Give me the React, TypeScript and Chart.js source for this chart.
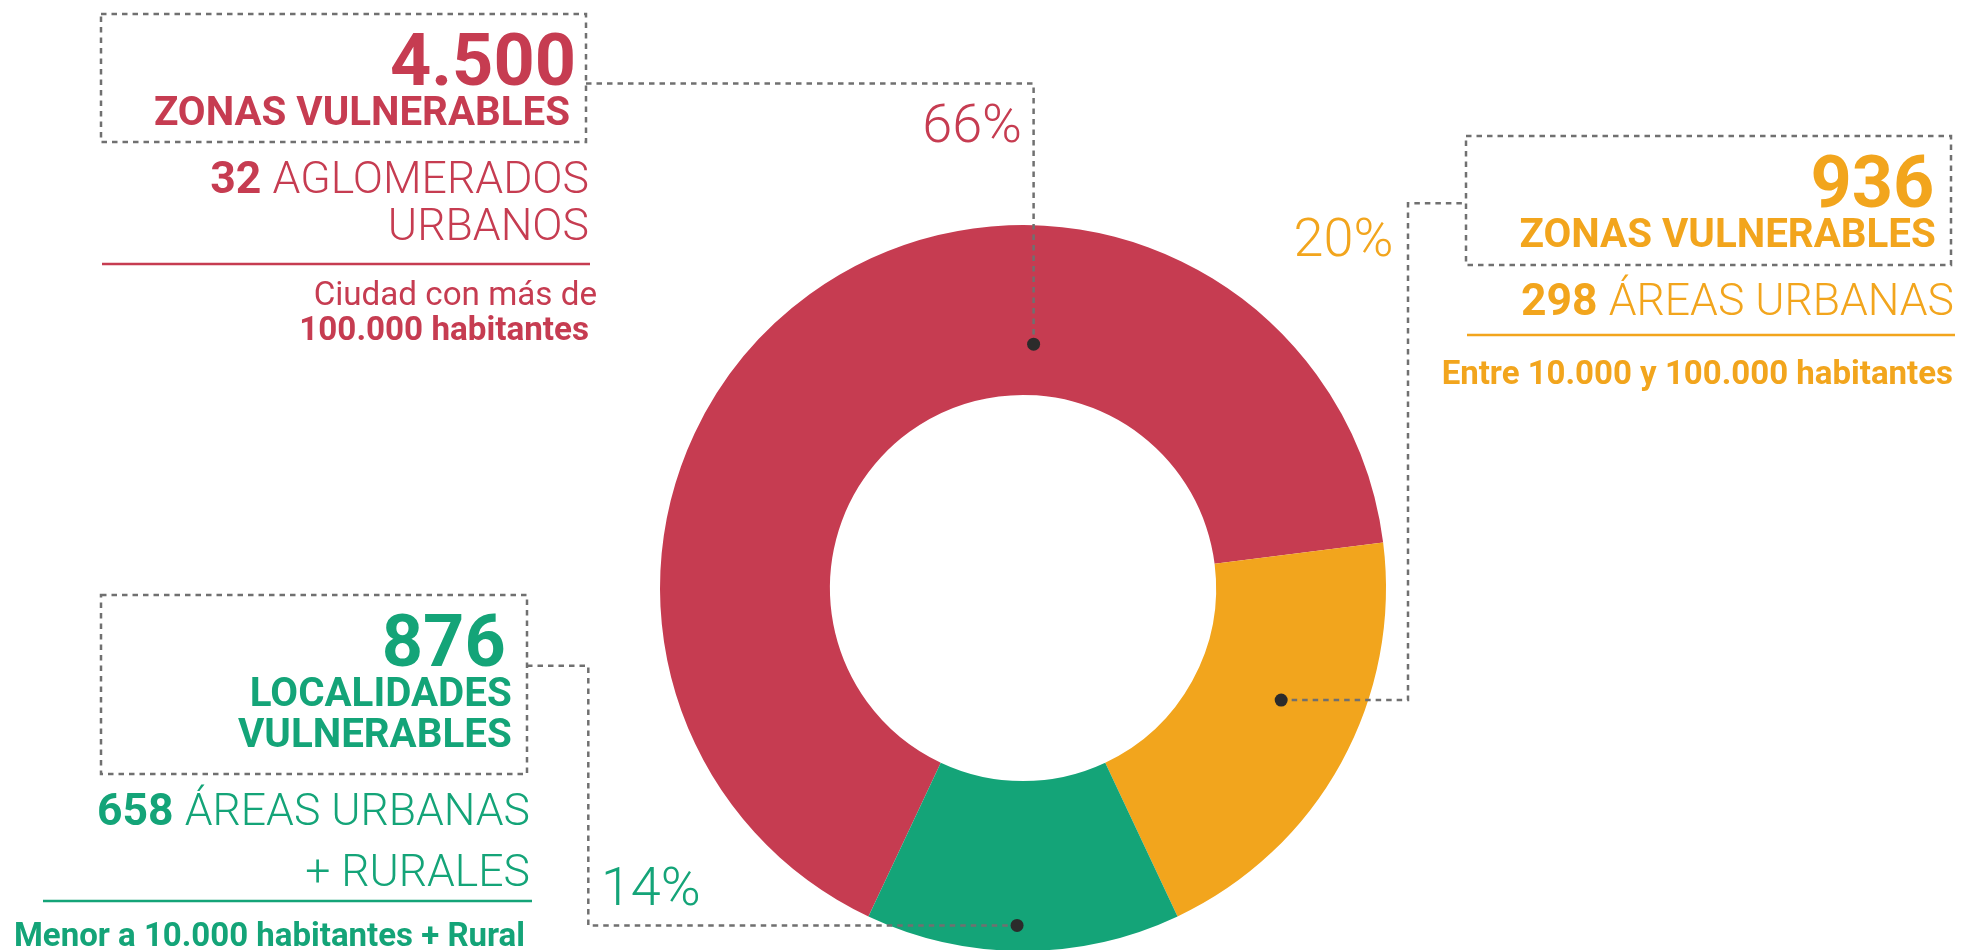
import React, { useEffect, useRef } from 'react';
import { Chart, registerables } from 'chart.js';

Chart.register(...registerables);

// ---------- data ----------
const categories = [
  'Ciudad con más de 100.000 habitantes',
  'Entre 10.000 y 100.000 habitantes',
  'Menor a 10.000 habitantes + Rural',
];
const shares = [66, 20, 14];
const zoneCounts = ['4.500', '936', '876'];
const zoneLabels = [['ZONAS VULNERABLES'], ['ZONAS VULNERABLES'], ['LOCALIDADES', 'VULNERABLES']];
const areaCounts = ['32', '298', '658'];
const areaLabels = [['AGLOMERADOS', 'URBANOS'], ['ÁREAS URBANAS'], ['ÁREAS URBANAS', '+ RURALES']];
const colors = ['#C63C51', '#F2A51D', '#14A478'];

// ---------- layout ----------
const W = 1962;
const H = 950;
const CANVAS_H = 1000;
const DASH_COLOR = '#707070';
const DOT_COLOR = '#2b2b2b';

// dot anchor inside each arc: fraction along the arc, fraction across the ring
const anchors = [
  { along: 0.662, radial: 0.3 },
  { along: 0.426, radial: 0.52 },
  { along: 0.52, radial: 0.85 },
];

const boxes = [
  { x: 101, y: 14, w: 485, h: 128 },
  { x: 1466, y: 136, w: 485, h: 129 },
  { x: 101, y: 595, w: 426, h: 179 },
];

const rules = [
  { x1: 102, x2: 590, y: 264, c: 0 },
  { x1: 1467, x2: 1955, y: 335, c: 1 },
  { x1: 43, x2: 532, y: 901, c: 2 },
];

type Part = [string, number];
type TextSpec = { parts: Part[]; size: number; right: number; base: number; c: number };

const texts: TextSpec[] = [
  { parts: [[zoneCounts[0], 700]], size: 72, right: 576, base: 86, c: 0 },
  { parts: [[zoneLabels[0][0], 700]], size: 40.3, right: 570, base: 126, c: 0 },
  { parts: [[areaCounts[0] + ' ', 700], [areaLabels[0][0], 300]], size: 44.6, right: 589, base: 193.3, c: 0 },
  { parts: [[areaLabels[0][1], 300]], size: 44.6, right: 589, base: 240.7, c: 0 },
  { parts: [['Ciudad con más de', 400]], size: 33.2, right: 597, base: 305.3, c: 0 },
  { parts: [['100.000 habitantes', 700]], size: 33.2, right: 589, base: 340, c: 0 },
  { parts: [[shares[0] + '%', 300]], size: 54, right: 1022, base: 142.3, c: 0 },

  { parts: [[zoneCounts[1], 700]], size: 72, right: 1934.3, base: 207.7, c: 1 },
  { parts: [[zoneLabels[1][0], 700]], size: 40.3, right: 1935.7, base: 248.3, c: 1 },
  { parts: [[areaCounts[1] + ' ', 700], [areaLabels[1][0], 300]], size: 44.5, right: 1954, base: 315.7, c: 1 },
  { parts: [[categories[1], 700]], size: 33, right: 1953, base: 383.3, c: 1 },
  { parts: [[shares[1] + '%', 300]], size: 54, right: 1393.3, base: 256.7, c: 1 },

  { parts: [[zoneCounts[2], 700]], size: 72, right: 505.7, base: 666.7, c: 2 },
  { parts: [[zoneLabels[2][0], 700]], size: 40.3, right: 511.7, base: 707.3, c: 2 },
  { parts: [[zoneLabels[2][1], 700]], size: 40.3, right: 511.7, base: 748.3, c: 2 },
  { parts: [[areaCounts[2] + ' ', 700], [areaLabels[2][0], 300]], size: 44.5, right: 530, base: 825.7, c: 2 },
  { parts: [[areaLabels[2][1], 300]], size: 44.5, right: 530, base: 886, c: 2 },
  { parts: [[categories[2], 700]], size: 33, right: 525, base: 946, c: 2 },
  { parts: [[shares[2] + '%', 300]], size: 54, right: 700.7, base: 905, c: 2 },
];

const BASE_RATIO = 0.8415;

const connectorPlugin = {
  id: 'connectors',
  afterDatasetsDraw(chart: any) {
    const ctx = chart.ctx as CanvasRenderingContext2D;
    const meta = chart.getDatasetMeta(0);
    const pts = meta.data.map((arc: any, i: number) => {
      const p = arc.getProps(['x', 'y', 'startAngle', 'endAngle', 'innerRadius', 'outerRadius'], true);
      const a = p.startAngle + (p.endAngle - p.startAngle) * anchors[i].along;
      const r = p.innerRadius + (p.outerRadius - p.innerRadius) * anchors[i].radial;
      return { x: p.x + Math.cos(a) * r, y: p.y + Math.sin(a) * r };
    });
    ctx.save();
    // solid rules
    rules.forEach((r) => {
      ctx.strokeStyle = colors[r.c];
      ctx.lineWidth = 2.4;
      ctx.beginPath();
      ctx.moveTo(r.x1, r.y);
      ctx.lineTo(r.x2, r.y);
      ctx.stroke();
    });
    ctx.strokeStyle = DASH_COLOR;
    ctx.lineWidth = 2.5;
    ctx.setLineDash([5.5, 5]);
    boxes.forEach((b) => ctx.strokeRect(b.x, b.y, b.w, b.h));
    const [pr, po, pg] = pts;
    ctx.beginPath();
    ctx.moveTo(boxes[0].x + boxes[0].w, 83.5);
    ctx.lineTo(pr.x, 83.5);
    ctx.lineTo(pr.x, pr.y);
    ctx.stroke();
    ctx.beginPath();
    ctx.moveTo(po.x, po.y);
    ctx.lineTo(1408, po.y);
    ctx.lineTo(1408, 203.3);
    ctx.lineTo(boxes[1].x, 203.3);
    ctx.stroke();
    ctx.beginPath();
    ctx.moveTo(boxes[2].x + boxes[2].w, 665.7);
    ctx.lineTo(588.3, 665.7);
    ctx.lineTo(588.3, pg.y);
    ctx.lineTo(pg.x, pg.y);
    ctx.stroke();
    ctx.setLineDash([]);
    ctx.fillStyle = DOT_COLOR;
    pts.forEach((p: any) => {
      ctx.beginPath();
      ctx.arc(p.x, p.y, 6.5, 0, Math.PI * 2);
      ctx.fill();
    });
    ctx.restore();
  },
};

export default function App() {
  const ref = useRef<HTMLCanvasElement | null>(null);
  useEffect(() => {
    if (!ref.current) return;
    const chart = new Chart(ref.current, {
      type: 'doughnut',
      data: {
        labels: categories,
        datasets: [
          {
            data: shares,
            backgroundColor: colors,
            borderWidth: 0,
            hoverOffset: 0,
            offset: 0,
          } as any,
        ],
      },
      options: {
        responsive: false,
        animation: false,
        devicePixelRatio: 1,
        rotation: 205.2,
        cutout: '53.2%',
        events: [],
        layout: { padding: { left: 660, right: 576, top: 225, bottom: CANVAS_H - 225 - 726 } },
        plugins: { legend: { display: false }, tooltip: { enabled: false } },
      } as any,
      plugins: [connectorPlugin],
    });
    return () => chart.destroy();
  }, []);

  return (
    <div
      style={{
        position: 'absolute',
        left: 0,
        top: 0,
        width: W,
        height: H,
        overflow: 'hidden',
        background: '#fff',
        fontFamily: 'Roboto, sans-serif',
      }}
    >
      <canvas
        ref={ref}
        width={W}
        height={CANVAS_H}
        style={{ position: 'absolute', left: 0, top: 0, width: W, height: CANVAS_H }}
      />
      {texts.map((t, i) => (
        <div
          key={i}
          style={{
            position: 'absolute',
            right: W - t.right,
            top: t.base - t.size * BASE_RATIO,
            fontSize: t.size,
            lineHeight: `${t.size}px`,
            whiteSpace: 'nowrap',
            color: colors[t.c],
          }}
        >
          {t.parts.map((p, j) => (
            <span key={j} style={{ fontWeight: p[1] }}>
              {p[0]}
            </span>
          ))}
        </div>
      ))}
    </div>
  );
}
